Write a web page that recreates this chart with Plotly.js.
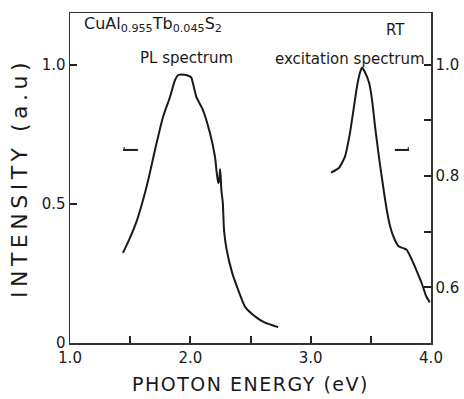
<!DOCTYPE html>
<html>
<head>
<meta charset="utf-8">
<script src="https://cdn.plot.ly/plotly-3.0.1.min.js"></script>
<style>
html,body{margin:0;padding:0;background:#fff;}
#chart{width:464px;height:399px;}
.ytitle{letter-spacing:4.5px;}
.xtitle{letter-spacing:1.5px;}
</style>
</head>
<body>
<div id="chart"></div>
<script>
// PL spectrum (left axis)
const plEnergy = [1.44, 1.50, 1.557, 1.607, 1.65, 1.706, 1.773, 1.831, 1.873, 1.90, 1.95, 2.00, 2.01, 2.05, 2.105, 2.163, 2.205, 2.22, 2.232, 2.24, 2.247, 2.252, 2.258, 2.27, 2.28, 2.30, 2.346, 2.39, 2.455, 2.54, 2.62, 2.73];
const plIntensity = [0.324, 0.38, 0.442, 0.514, 0.586, 0.694, 0.813, 0.885, 0.946, 0.964, 0.965, 0.958, 0.953, 0.885, 0.838, 0.755, 0.669, 0.61, 0.575, 0.585, 0.625, 0.60, 0.55, 0.504, 0.406, 0.34, 0.255, 0.20, 0.13, 0.095, 0.073, 0.057];

// Excitation spectrum (right axis)
const exEnergy = [3.169, 3.236, 3.285, 3.327, 3.36, 3.385, 3.41, 3.427, 3.45, 3.485, 3.51, 3.535, 3.567, 3.61, 3.636, 3.66, 3.69, 3.73, 3.775, 3.80, 3.84, 3.88, 3.925, 3.96, 3.99];
const exIntensity = [0.806, 0.815, 0.835, 0.878, 0.925, 0.961, 0.986, 0.995, 0.987, 0.968, 0.937, 0.889, 0.835, 0.77, 0.735, 0.71, 0.69, 0.674, 0.67, 0.667, 0.65, 0.63, 0.606, 0.584, 0.573];

// Tick labels
const xTickVals = [1, 2, 3, 4];
const xTickText = ["1.0", "2.0", "3.0", "4.0"];
const yLeftTickVals = [0, 0.5, 1.0];
const yLeftTickText = ["0", "0.5", "1.0"];
const yRightTickVals = [0.6, 0.8, 1.0];
const yRightTickText = ["0.6", "0.8", "1.0"];

const FONT = "DejaVu Sans, sans-serif";
const INK = "#1a1a1a";

const traces = [
  {x: plEnergy, y: plIntensity, type: 'scatter', mode: 'lines', yaxis: 'y',
   line: {color: INK, width: 2, shape: 'spline', smoothing: 0.5}, hoverinfo: 'skip'},
  {x: exEnergy, y: exIntensity, type: 'scatter', mode: 'lines', yaxis: 'y2',
   line: {color: INK, width: 2, shape: 'spline', smoothing: 0.5}, hoverinfo: 'skip'}
];

const axisCommon = {
  showgrid: false, zeroline: false, showline: true, linecolor: '#333', linewidth: 1.5,
  ticks: 'inside', ticklen: 7, tickwidth: 2, tickcolor: '#222',
  tickfont: {family: FONT, size: 15, color: INK}
};

const layout = {
  width: 464, height: 399,
  margin: {l: 70, r: 33, t: 13, b: 56, pad: 0},
  paper_bgcolor: '#fff', plot_bgcolor: 'rgba(0,0,0,0)',
  showlegend: false,
  font: {family: FONT, color: INK},
  xaxis: Object.assign({}, axisCommon, {
    range: [1, 4], tickvals: xTickVals, ticktext: xTickText, mirror: true,
    minor: {dtick: 0.5, tick0: 1, ticks: 'inside', ticklen: 7, tickwidth: 2, tickcolor: '#222'},
    title: {text: 'PHOTON ENERGY (eV)', font: {family: FONT, size: 19, color: INK}, standoff: 12}
  }),
  yaxis: Object.assign({}, axisCommon, {
    range: [0, 1.187], tickvals: yLeftTickVals, ticktext: yLeftTickText,
    title: {text: 'INTENSITY (a.u)', font: {family: FONT, size: 22, color: INK}, standoff: 8}
  }),
  yaxis2: Object.assign({}, axisCommon, {
    range: [0.5, 1.093], tickvals: yRightTickVals, ticktext: yRightTickText,
    overlaying: 'y', side: 'right',
    minor: {dtick: 0.1, tick0: 0.5, ticks: 'inside', ticklen: 7, tickwidth: 2, tickcolor: '#222'}
  }),
  annotations: [
    {text: 'CuAl<sub>0.955</sub>Tb<sub>0.045</sub>S<sub>2</sub>', xref: 'paper', yref: 'paper',
     x: 0.033, y: 0.964, xanchor: 'left', yanchor: 'middle', showarrow: false,
     font: {family: FONT, size: 16, color: INK}},
    {text: 'PL spectrum', xref: 'paper', yref: 'paper', x: 0.188, y: 0.864,
     xanchor: 'left', yanchor: 'middle', showarrow: false, font: {family: FONT, size: 15, color: INK}},
    {text: 'RT', xref: 'paper', yref: 'paper', x: 0.934, y: 0.948,
     xanchor: 'right', yanchor: 'middle', showarrow: false, font: {family: FONT, size: 15, color: INK}},
    {text: 'excitation spectrum', xref: 'paper', yref: 'paper', x: 0.989, y: 0.861,
     xanchor: 'right', yanchor: 'middle', showarrow: false, font: {family: FONT, size: 15, color: INK}}
  ],
  shapes: [
    // left-pointing axis indicator
    {type: 'line', xref: 'paper', yref: 'paper', x0: 0.147, x1: 0.188, y0: 0.585, y1: 0.585, line: {color: INK, width: 2}},
    {type: 'line', xref: 'paper', yref: 'paper', x0: 0.150, x1: 0.150, y0: 0.585, y1: 0.594, line: {color: INK, width: 1}},
    // right-pointing axis indicator
    {type: 'line', xref: 'paper', yref: 'paper', x0: 0.900, x1: 0.939, y0: 0.585, y1: 0.585, line: {color: INK, width: 2}},
    {type: 'line', xref: 'paper', yref: 'paper', x0: 0.937, x1: 0.937, y0: 0.585, y1: 0.594, line: {color: INK, width: 1}}
  ]
};

Plotly.newPlot('chart', traces, layout, {staticPlot: true, displayModeBar: false});
</script>
</body>
</html>
